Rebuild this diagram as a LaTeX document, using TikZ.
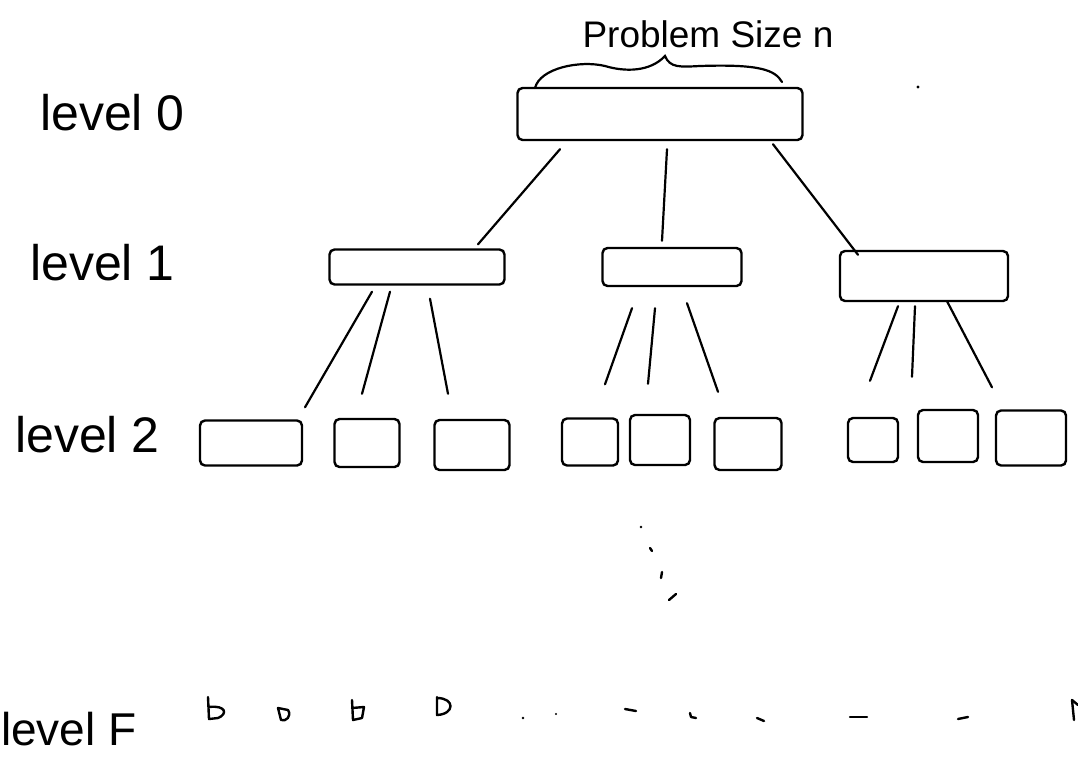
\documentclass[tikz,border=0pt]{standalone}
\usepackage{fontspec}
\setmainfont{Liberation Sans}
\usetikzlibrary{calc}
\begin{document}
\begin{tikzpicture}[x=1pt,y=-1pt,
  bx/.style={draw,line width=2.4pt,rounded corners=5pt,inner sep=0pt},
  lvl/.style={anchor=base west,font=\fontsize{50}{50}\selectfont,inner sep=0pt},
  ln/.style={line width=2.2pt,line cap=round},
  mk/.style={line width=2.4pt,line cap=round,line join=round}]
\useasboundingbox (0,0) rectangle (1078,761);
% level labels
\node[lvl] (l0) at (40,130) {level 0};
\node[lvl] (l1) at (30,280) {level 1};
\node[lvl] (l2) at (15,452) {level 2};
\node[lvl,font=\fontsize{46}{46}\selectfont] (lF) at (1,745) {level F};
% level 0
\node[bx,minimum width=285pt,minimum height=52pt] (r) at (660,114) {};
\node[font=\fontsize{37}{37}\selectfont,inner sep=0pt] (ps) at (708,34) {Problem Size n};
\coordinate (bl) at (535,88);
\coordinate (br) at (782,82);
\draw[ln] (bl) .. controls (540,68) and (580,60) .. (605,66)
  .. controls (625,72) and (650,72) .. (665,56)
  .. controls (670,68) and (680,67) .. (700,66)
  .. controls (760,64) and (775,70) .. (br);
\fill (918,87) circle (1.6);
% level 1
\node[bx,minimum width=175pt,minimum height=35pt] (a) at (417,267) {};
\node[bx,minimum width=139pt,minimum height=38pt] (b) at (672,267) {};
\node[bx,minimum width=168pt,minimum height=50pt] (c) at (924,276) {};
% level 2
\node[bx,minimum width=102pt,minimum height=45pt] (c1) at (251,443) {};
\node[bx,minimum width=65pt,minimum height=48pt] (c2) at (367,443) {};
\node[bx,minimum width=75pt,minimum height=50pt] (c3) at (472,445) {};
\node[bx,minimum width=56pt,minimum height=47pt] (c4) at (590,442) {};
\node[bx,minimum width=60pt,minimum height=50pt] (c5) at (660,440) {};
\node[bx,minimum width=67pt,minimum height=52pt] (c6) at (748,444) {};
\node[bx,minimum width=50pt,minimum height=44pt] (c7) at (873,440) {};
\node[bx,minimum width=60pt,minimum height=52pt] (c8) at (948,436) {};
\node[bx,minimum width=70pt,minimum height=55pt] (c9) at (1031,438) {};
% connectors level 0 -> 1
\draw[ln] ($(r.south)+(-100,8)$) -- ($(a.north)+(61,-4)$);
\draw[ln] ($(r.south)+(7,8)$) -- ($(b.north)+(-10,-6)$);
\draw[ln] ($(r.south)+(113,3)$) -- ($(c.north)+(-66,5)$);
% connectors level 1 -> 2
\draw[ln] ($(a.south)+(-45,6)$) -- ($(c1.north)+(54,-12)$);
\draw[ln] ($(a.south)+(-27,6)$) -- ($(c2.north)+(-5,-24)$);
\draw[ln] ($(a.south)+(13,13)$) -- ($(c3.north)+(-24,-25)$);
\draw[ln] ($(b.south)+(-40,21)$) -- ($(c4.north)+(15,-33)$);
\draw[ln] ($(b.south)+(-17,21)$) -- ($(c5.north)+(-12,-30)$);
\draw[ln] ($(b.south)+(15,16)$) -- ($(c6.north)+(-30,-25)$);
\draw[ln] ($(c.south)+(-26,4)$) -- ($(c7.north)+(-3,-36)$);
\draw[ln] ($(c.south)+(-9,4)$) -- ($(c8.north)+(-36,-32)$);
\draw[ln] ($(c.south)+(23,-1)$) -- ($(c9.north)+(-39,-22)$);
% vertical dots
\fill (641,527) circle (1.4);
\draw[mk] (650,548) -- (652,551);
\draw[mk] (662,572) -- (661,578);
\draw[mk] (669,600) -- (676,594);
% level F marks
\draw[mk] (208,697) -- (209,719) -- (218,718) .. controls (228,714) and (226,705) .. (209,707);
\draw[mk] (278,708) -- (288,710) .. controls (292,716) and (286,722) .. (281,720) -- cycle;
\draw[mk] (352,700) -- (353,720) -- (362,718) -- (364,707) -- (352,708);
\draw[mk] (437,697) -- (437,715) .. controls (455,714) and (455,698) .. (437,698);
\fill (523,718) circle (1.4);
\fill (556,714) circle (1.2);
\draw[mk] (625,709) -- (636,711);
\draw[mk] (690,713) -- (691,717) -- (696,718);
\draw[mk] (757,718) -- (764,721);
\draw[mk] (850,717) -- (867,717);
\draw[mk] (958,719) -- (968,717);
\draw[mk] (1072,700) -- (1074,720);
\draw[mk] (1072,700) -- (1078,705);
\end{tikzpicture}
\end{document}
